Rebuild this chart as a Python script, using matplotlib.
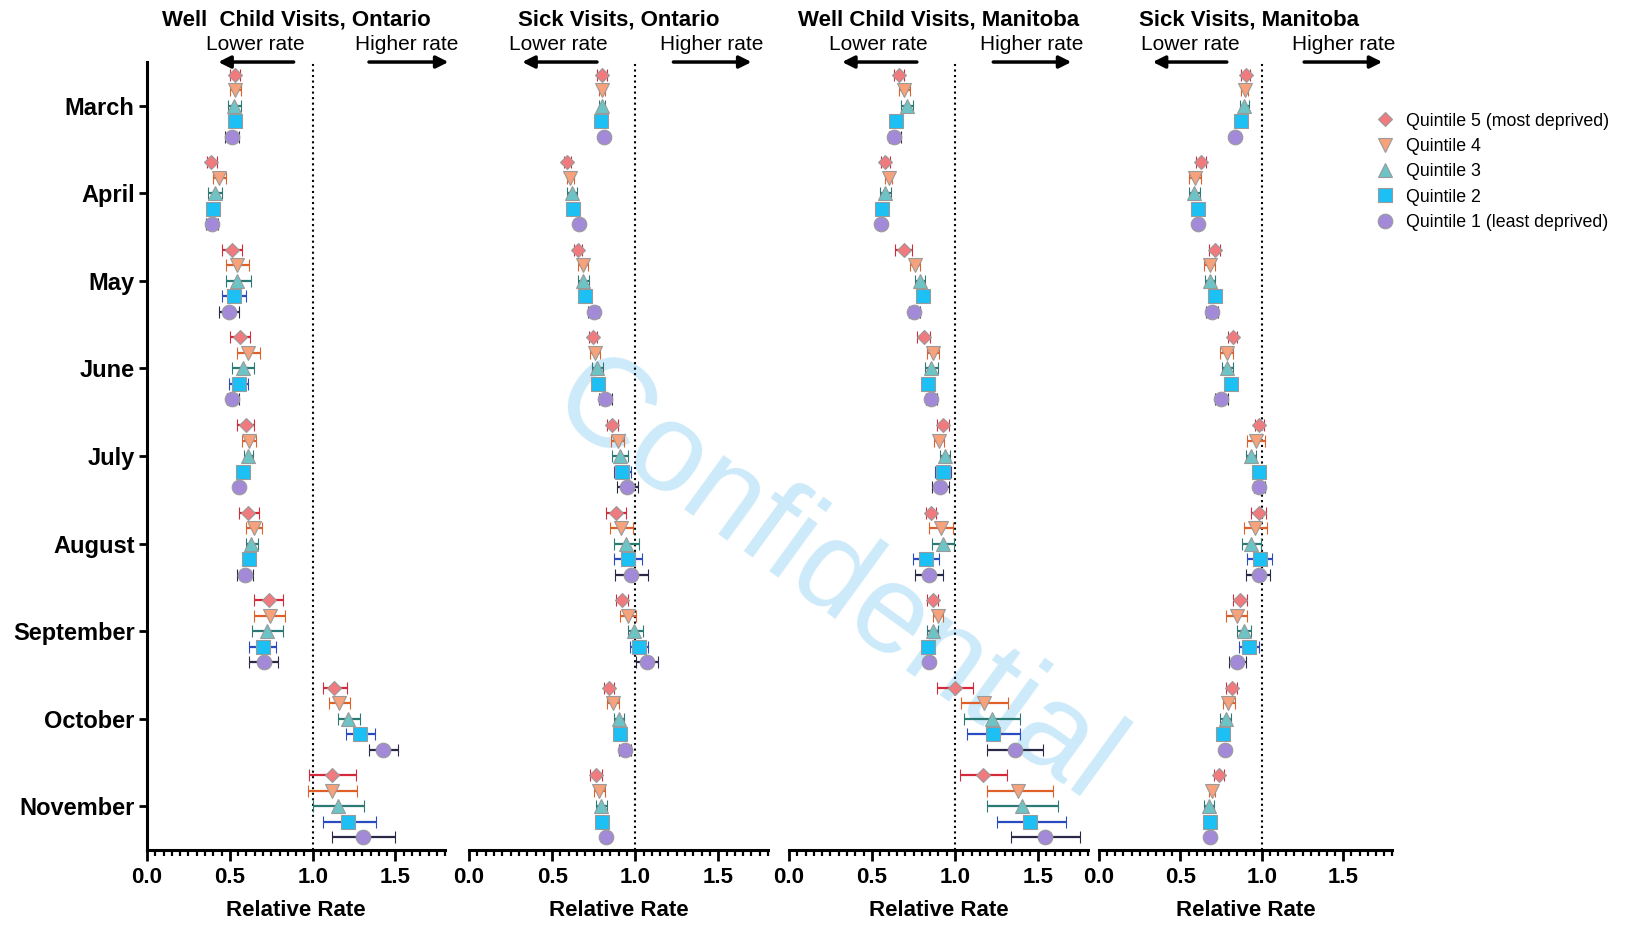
import matplotlib
matplotlib.use('Agg')
import matplotlib.pyplot as plt
import numpy as np
from matplotlib.lines import Line2D
from matplotlib.ticker import MultipleLocator

plt.rcParams['font.family'] = ['Liberation Sans', 'DejaVu Sans']

months = ['March', 'April', 'May', 'June', 'July', 'August',
          'September', 'October', 'November']
quintiles = ['Quintile 5 (most deprived)', 'Quintile 4', 'Quintile 3',
             'Quintile 2', 'Quintile 1 (least deprived)']
titles = ['Well  Child Visits, Ontario', 'Sick Visits, Ontario',
          'Well Child Visits, Manitoba', 'Sick Visits, Manitoba']

# relative rates, one row per month, columns Q5 .. Q1
won_est = [[0.53, 0.53, 0.525, 0.53, 0.51],
           [0.385, 0.435, 0.41, 0.40, 0.39],
           [0.51, 0.54, 0.545, 0.525, 0.495],
           [0.56, 0.61, 0.58, 0.555, 0.515],
           [0.595, 0.615, 0.61, 0.58, 0.555],
           [0.61, 0.645, 0.63, 0.615, 0.59],
           [0.735, 0.74, 0.725, 0.70, 0.705],
           [1.13, 1.16, 1.215, 1.285, 1.425],
           [1.115, 1.115, 1.155, 1.215, 1.305]]
won_lo = [[0.50, 0.50, 0.49, 0.51, 0.47],
          [0.36, 0.40, 0.37, 0.38, 0.355],
          [0.45, 0.475, 0.475, 0.455, 0.435],
          [0.50, 0.54, 0.515, 0.495, 0.48],
          [0.545, 0.575, 0.585, 0.56, 0.535],
          [0.555, 0.595, 0.595, 0.59, 0.545],
          [0.645, 0.645, 0.635, 0.615, 0.615],
          [1.06, 1.10, 1.15, 1.20, 1.34],
          [0.98, 0.97, 1.00, 1.06, 1.115]]
won_hi = [[0.56, 0.565, 0.565, 0.55, 0.555],
          [0.42, 0.475, 0.45, 0.42, 0.43],
          [0.575, 0.615, 0.625, 0.595, 0.555],
          [0.62, 0.68, 0.645, 0.61, 0.555],
          [0.645, 0.655, 0.64, 0.60, 0.575],
          [0.675, 0.695, 0.67, 0.64, 0.64],
          [0.82, 0.835, 0.82, 0.78, 0.79],
          [1.205, 1.225, 1.285, 1.375, 1.515],
          [1.26, 1.27, 1.31, 1.38, 1.50]]

son_est = [[0.80, 0.80, 0.80, 0.795, 0.815],
           [0.59, 0.61, 0.62, 0.625, 0.66],
           [0.655, 0.685, 0.685, 0.70, 0.75],
           [0.745, 0.76, 0.77, 0.775, 0.82],
           [0.86, 0.895, 0.91, 0.92, 0.95],
           [0.885, 0.915, 0.945, 0.955, 0.975],
           [0.92, 0.955, 0.995, 1.02, 1.07],
           [0.84, 0.865, 0.90, 0.91, 0.94],
           [0.765, 0.785, 0.795, 0.80, 0.825]]
son_lo = [[0.77, 0.78, 0.78, 0.775, 0.795],
          [0.57, 0.59, 0.59, 0.605, 0.64],
          [0.63, 0.655, 0.655, 0.68, 0.715],
          [0.72, 0.73, 0.74, 0.755, 0.78],
          [0.83, 0.855, 0.86, 0.875, 0.89],
          [0.825, 0.85, 0.87, 0.87, 0.88],
          [0.885, 0.91, 0.955, 0.97, 1.005],
          [0.81, 0.83, 0.87, 0.89, 0.905],
          [0.73, 0.75, 0.765, 0.78, 0.805]]
son_hi = [[0.83, 0.82, 0.82, 0.815, 0.835],
          [0.615, 0.63, 0.65, 0.645, 0.68],
          [0.68, 0.715, 0.72, 0.72, 0.785],
          [0.77, 0.79, 0.805, 0.795, 0.86],
          [0.895, 0.935, 0.955, 0.975, 1.015],
          [0.945, 0.985, 1.02, 1.04, 1.075],
          [0.955, 1.005, 1.045, 1.075, 1.135],
          [0.87, 0.90, 0.93, 0.93, 0.975],
          [0.80, 0.82, 0.83, 0.82, 0.845]]

wmb_est = [[0.665, 0.695, 0.71, 0.645, 0.635],
           [0.58, 0.60, 0.58, 0.56, 0.555],
           [0.69, 0.76, 0.79, 0.805, 0.755],
           [0.81, 0.865, 0.855, 0.835, 0.855],
           [0.925, 0.905, 0.94, 0.925, 0.91],
           [0.855, 0.915, 0.925, 0.825, 0.845],
           [0.865, 0.90, 0.865, 0.835, 0.845],
           [1.00, 1.175, 1.22, 1.23, 1.36],
           [1.17, 1.38, 1.405, 1.45, 1.54]]
wmb_lo = [[0.635, 0.66, 0.675, 0.625, 0.60],
          [0.555, 0.58, 0.55, 0.54, 0.535],
          [0.64, 0.73, 0.76, 0.785, 0.72],
          [0.77, 0.83, 0.82, 0.815, 0.825],
          [0.89, 0.875, 0.91, 0.88, 0.86],
          [0.825, 0.845, 0.86, 0.745, 0.76],
          [0.83, 0.87, 0.83, 0.815, 0.825],
          [0.89, 1.035, 1.055, 1.07, 1.195],
          [1.03, 1.19, 1.19, 1.25, 1.335]]
wmb_hi = [[0.695, 0.73, 0.745, 0.665, 0.675],
          [0.61, 0.62, 0.615, 0.58, 0.575],
          [0.74, 0.79, 0.82, 0.825, 0.79],
          [0.85, 0.905, 0.895, 0.855, 0.89],
          [0.965, 0.935, 0.97, 0.975, 0.965],
          [0.885, 0.985, 0.995, 0.905, 0.925],
          [0.895, 0.93, 0.90, 0.855, 0.865],
          [1.11, 1.32, 1.39, 1.39, 1.53],
          [1.31, 1.59, 1.62, 1.665, 1.75]]

smb_est = [[0.90, 0.895, 0.89, 0.875, 0.835],
           [0.625, 0.59, 0.585, 0.61, 0.61],
           [0.71, 0.68, 0.68, 0.71, 0.695],
           [0.82, 0.785, 0.785, 0.81, 0.75],
           [0.985, 0.965, 0.935, 0.98, 0.985],
           [0.98, 0.955, 0.935, 0.99, 0.98],
           [0.865, 0.845, 0.89, 0.92, 0.85],
           [0.815, 0.795, 0.78, 0.76, 0.775],
           [0.735, 0.695, 0.675, 0.68, 0.68]]
smb_lo = [[0.875, 0.875, 0.865, 0.855, 0.815],
          [0.595, 0.555, 0.555, 0.59, 0.59],
          [0.675, 0.645, 0.65, 0.69, 0.66],
          [0.79, 0.745, 0.755, 0.79, 0.71],
          [0.955, 0.91, 0.905, 0.96, 0.95],
          [0.935, 0.89, 0.88, 0.91, 0.90],
          [0.82, 0.78, 0.845, 0.86, 0.80],
          [0.78, 0.76, 0.745, 0.74, 0.755],
          [0.705, 0.675, 0.645, 0.66, 0.66]]
smb_hi = [[0.93, 0.915, 0.92, 0.895, 0.855],
          [0.655, 0.625, 0.62, 0.63, 0.63],
          [0.745, 0.715, 0.71, 0.73, 0.73],
          [0.85, 0.82, 0.82, 0.83, 0.79],
          [1.015, 1.02, 0.965, 1.00, 1.02],
          [1.025, 1.03, 0.995, 1.06, 1.05],
          [0.91, 0.91, 0.935, 0.98, 0.90],
          [0.85, 0.835, 0.81, 0.78, 0.795],
          [0.765, 0.715, 0.705, 0.70, 0.70]]

panels = [(won_est, won_lo, won_hi), (son_est, son_lo, son_hi),
          (wmb_est, wmb_lo, wmb_hi), (smb_est, smb_lo, smb_hi)]

# styling
markers = ['D', 'v', '^', 's', 'o']
msizes = [7, 10.5, 10.5, 10.5, 10.5]
faces = ['#f07a7e', '#f8a27c', '#6cc4c6', '#1cc0f4', '#a38ad8']
ecols = ['#d42a3c', '#e0602a', '#2a7a76', '#2a4cc0', '#2a2a48']
step = 0.177

# axes boxes in figure fraction
boxes = [[0.0904, 0.086, 0.1832, 0.8473],
         [0.2883, 0.086, 0.1838, 0.8473],
         [0.4849, 0.086, 0.1838, 0.8473],
         [0.6755, 0.086, 0.1801, 0.8473]]
# arrow / label placement (data x): left arrow, right arrow, text centres
arrows = [(0.885, 0.43, 1.34, 1.82, 0.655, 1.57),
          (0.77, 0.32, 1.23, 1.70, 0.54, 1.46),
          (0.77, 0.32, 1.23, 1.70, 0.54, 1.46),
          (0.785, 0.33, 1.26, 1.74, 0.56, 1.50)]
title_x = [0.9, 0.9, 0.9, 0.92]

fig = plt.figure(figsize=(16.27, 9.30), dpi=100)

fig.text(0.5128, 0.3739, 'Confidential', rotation=-36, fontsize=91,
         color='#cdeafa', ha='center', va='center', zorder=-1)

for k, (est, lo, hi) in enumerate(panels):
    ax = fig.add_axes(boxes[k])
    ax.patch.set_visible(False)
    est = np.array(est)
    lo = np.array(lo)
    hi = np.array(hi)
    for j in range(5):
        y = np.arange(len(months)) + (j - 2) * step
        e = est[:, j]
        ax.errorbar(e, y, xerr=[e - lo[:, j], hi[:, j] - e], fmt=markers[j],
                    ms=msizes[j], mfc=faces[j], mec='#9a9a9a', mew=0.8,
                    ecolor=ecols[j], elinewidth=1.6, capsize=4.5, capthick=1.6,
                    zorder=3)
    ax.axvline(1.0, color='black', ls=':', lw=1.5, zorder=1)

    ax.set_xlim(0, 1.8)
    ax.set_ylim(len(months) - 0.5, -0.5)
    ax.set_xticks([0, 0.5, 1.0, 1.5], labels=['0.0', '0.5', '1.0', '1.5'],
                  fontsize=16, fontweight='bold')
    ax.xaxis.set_minor_locator(MultipleLocator(0.05))
    ax.tick_params(axis='x', which='major', length=8, width=2, pad=4)
    ax.tick_params(axis='x', which='minor', length=4.5, width=1.6)
    ax.set_xlabel('Relative Rate', fontsize=16, fontweight='bold', labelpad=9)
    ax.spines['top'].set_visible(False)
    ax.spines['right'].set_visible(False)
    ax.spines['bottom'].set_linewidth(2.2)
    if k == 0:
        ax.spines['left'].set_linewidth(2.2)
        ax.set_yticks(range(len(months)), labels=months, fontsize=17,
                      fontweight='bold')
        ax.tick_params(axis='y', length=6, width=2, pad=3)
    else:
        ax.spines['left'].set_visible(False)
        ax.set_yticks([])

    tr = ax.get_xaxis_transform()
    l0, l1, r0, r1, tl, th = arrows[k]
    for a, b in [(l0, l1), (r0, r1)]:
        ax.annotate('', xy=(b, 1.0), xytext=(a, 1.0), xycoords=tr,
                    textcoords=tr, annotation_clip=False,
                    arrowprops=dict(arrowstyle='-|>', color='black', lw=2.5,
                                    mutation_scale=18, shrinkA=0, shrinkB=0))
    ax.text(tl, 1.022, 'Lower rate', transform=tr, ha='center', va='center',
            fontsize=15)
    ax.text(th, 1.022, 'Higher rate', transform=tr, ha='center', va='center',
            fontsize=15)
    ax.text(title_x[k], 1.0533, titles[k], transform=tr, ha='center',
            va='center', fontsize=16, fontweight='bold')

handles = [Line2D([], [], ls='none', marker=markers[j], ms=msizes[j],
                  mfc=faces[j], mec='#9a9a9a', mew=0.8) for j in range(5)]
fig.legend(handles, quintiles, loc='upper left', bbox_to_anchor=(0.845, 0.879),
           frameon=False, fontsize=12.8, handlelength=1.2, handletextpad=0.55,
           labelspacing=0.47, borderpad=0, borderaxespad=0)

fig.savefig('out.png', dpi=100)
